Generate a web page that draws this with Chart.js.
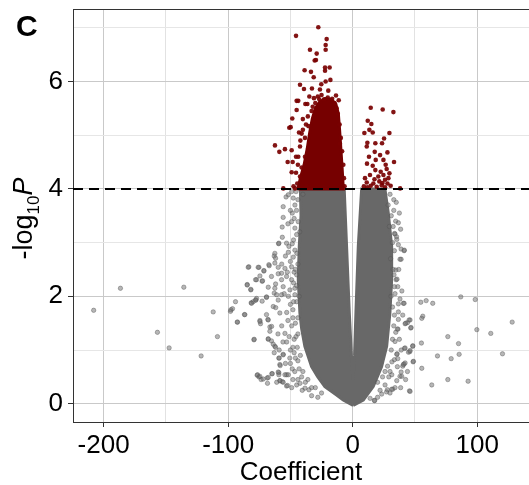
<!DOCTYPE html>
<html>
<head>
<meta charset="utf-8">
<script src="https://cdn.jsdelivr.net/npm/chart.js@4.4.0/dist/chart.umd.min.js"></script>
<style>
  html, body { margin: 0; padding: 0; background: #fff; overflow: hidden; }
  /* 3px wider than the window: the points' overflow padding lands off-screen */
  #wrap { width: 532px; height: 485px; position: relative; }
</style>
</head>
<body>
<div id="wrap"><canvas id="volcano"></canvas></div>
<script>
// axis setup
const xLimits = [-224.6, 141.6];
const yLimits = [-0.34, 7.35];
const xMajor = [-200, -100, 0, 100];
const xMinor = [-150, -50, 50];
const yMajor = [0, 2, 4, 6];
const yMinor = [1, 3, 5, 7];
const threshold = 4;

// dense grey V (outline of the solid region, coefficient / -log10 P)
const greyCore = [
    [0.4, -0.03], [-7.6, 0.07], [-14, 0.18], [-22.3, 0.32], [-28, 0.5], [-33, 0.69],
    [-38.4, 1.07], [-41, 1.4], [-42.4, 1.69], [-43.7, 2.31], [-42.9, 2.93], [-41.5, 3.5],
    [-42, 4.0], [-6.8, 4.0], [-4.9, 2.93], [-2.7, 1.69], [-0.8, 0.8], [0.2, 0.45],
    [1.5, 0.9], [2.6, 1.69], [4.5, 2.93], [7.2, 4.0], [25.9, 4.0], [28.6, 3.55],
    [31.3, 2.93], [31.3, 2.31], [29.9, 1.69], [27.3, 1.07], [23.2, 0.69], [16.5, 0.32],
    [8.5, 0.07], [0.4, -0.03]
];

// dense red blob above the threshold
const redCore = [
    [-44, 4.0], [-42, 4.2], [-39, 4.45], [-36.5, 4.75], [-34.5, 5.05], [-32.5, 5.3],
    [-30, 5.5], [-26.5, 5.62], [-22, 5.68], [-17, 5.66], [-13.5, 5.58], [-11.5, 5.4],
    [-10.5, 5.1], [-9.5, 4.75], [-8.5, 4.4], [-7.5, 4.0], [-44, 4.0]
];

// scattered grey genes
const greyPoints = [
    [-208.0, 1.74], [-186.5, 2.15], [-156.8, 1.33], [-147.4, 1.04], [-135.6, 2.17], [-121.7, 0.89],
    [-112.0, 1.71], [-108.6, 1.25], [-98.1, 1.72], [-96.5, 1.77], [-94.1, 1.90], [-92.5, 1.52],
    [-86.9, 1.66], [-83.4, 2.55], [-84.7, 2.22], [-81.8, 2.12], [-81.5, 1.88], [-79.9, 1.90],
    [-77.7, 1.93], [-79.3, 1.19], [-76.7, 0.53], [-75.3, 0.50], [-73.5, 0.45], [-68.6, 0.48],
    [-68.4, 0.38], [-64.9, 0.56], [-77.2, 2.31], [-75.3, 2.54], [-72.7, 2.28], [-71.3, 2.47],
    [-72.7, 1.91], [-74.5, 1.55], [-74.0, 1.49], [-69.2, 1.98], [-68.1, 1.57], [-66.5, 1.43],
    [-67.0, 2.57], [-63.0, 2.75], [-62.5, 2.62], [-59.5, 2.98], [-61.9, 2.23], [-63.0, 2.06],
    [-63.8, 1.81], [-61.8, 1.79], [-67.8, 1.20], [-65.2, 1.17], [-62.5, 1.07], [-59.3, 0.85],
    [-58.5, 0.73], [-59.3, 0.58], [-58.5, 0.43], [-56.5, 0.41], [-53.1, 0.33], [-59.8, 1.93],
    [-58.5, 1.69], [-57.1, 2.43], [-54.4, 1.31], [-55.8, 0.92], [-53.1, 0.54],
    [-55.8, 3.67], [-55.8, 3.47], [-56.6, 3.29], [-51.7, 3.89], [-47.7, 3.83], [-46.4, 3.70],
    [-48.5, 3.55], [-45.1, 3.60], [-43.7, 3.39], [-49.1, 3.39], [-46.4, 3.27], [-59.3, 2.99],
    [-53.1, 2.99], [-51.2, 2.93], [-48.5, 2.98], [-46.4, 2.86], [-51.7, 2.82], [-47.7, 2.73],
    [-62.5, 2.80], [-61.9, 2.71], [-67.3, 2.59], [-59.8, 2.54], [-83.9, 2.54], [-75.9, 2.54],
    [-71.3, 2.48], [-54.4, 2.52], [-49.1, 2.55], [-74.5, 2.38], [-78.0, 2.31], [-72.4, 2.29],
    [-65.2, 2.37], [-59.8, 2.42], [-57.1, 2.31], [-53.1, 2.37], [-49.1, 2.31], [-84.7, 2.21],
    [-81.8, 2.13], [-67.8, 2.17], [-62.5, 2.15], [-55.8, 2.18], [-50.4, 2.12], [-46.4, 2.15],
    [-77.2, 1.96], [-69.2, 1.99], [-61.1, 2.03], [-57.1, 2.03], [-51.7, 2.0], [-46.4, 2.03],
    [-97.8, 1.75], [-92.7, 1.52], [-81.2, 1.87], [-78.0, 1.93], [-86.6, 1.66], [-74.5, 1.53],
    [-79.1, 1.20], [-69.2, 1.66], [-67.8, 1.56], [-65.1, 1.44], [-66.5, 1.35], [-67.8, 1.21],
    [-63.8, 1.11], [-61.9, 1.05], [-59.0, 1.00], [-55.8, 0.91], [-59.0, 0.85], [-58.2, 0.71],
    [-59.8, 0.59], [-59.3, 0.54], [-54.4, 0.54], [-51.7, 0.54], [-76.4, 0.54], [-74.5, 0.51],
    [-67.8, 0.49], [-71.8, 0.46], [-64.6, 0.56], [-58.4, 0.43], [-55.8, 0.40], [-52.3, 0.34],
    [-48.5, 0.65], [-45.0, 0.35], [-42.3, 0.38], [-38.3, 0.29], [-35.1, 0.26],
    [-52, 1.55], [-49, 1.45], [-47, 1.2], [-50, 1.0], [-46, 0.85], [-44, 1.6], [-48, 1.75],
    [-45, 1.9], [-53, 1.7], [-51, 1.25], [-44.5, 1.05], [-47, 0.95],
    [-40, 3.9], [-44, 3.8], [-42.5, 3.2], [-44, 2.6], [-45, 2.4], [-43, 2.0], [-44, 1.3],
    [-42, 0.9], [-40, 0.6], [-36, 0.45], [-30, 0.3], [-25, 0.2],
    [-47, 3.45], [-45, 3.15], [-47.5, 3.05], [-44.8, 2.8], [-46, 2.5], [-47.5, 2.25],
    [-45, 2.2], [-48, 1.6], [-46, 1.5], [-45.5, 1.25], [-44, 0.8], [-43, 0.65], [-41, 0.5],
    [-38, 0.4], [-33, 0.3], [-50, 0.75], [-48, 0.45],
    [-56.5, 3.1], [-54, 2.75], [-57, 2.6], [-52.5, 2.45], [-50, 2.65], [-47, 2.45],
    [-55, 2.05], [-50, 1.85], [-47.5, 1.9], [-53, 1.15], [-50.5, 0.85], [-48, 1.05],
    [-46.5, 0.6], [-49, 0.3], [-44, 0.45], [-40.5, 0.25], [-33, 0.15], [-28, 0.12],
    [-52, 3.35], [-50, 3.6], [-53.5, 3.85], [-49, 3.95], [-45.5, 3.95], [-61, 0.4],
    [-63, 0.95], [-60, 1.3], [-57, 1.45], [-56, 1.15], [-54, 0.75],
    [86.8, 1.99], [98.4, 1.94], [128.1, 1.52], [99.7, 1.38], [110.9, 1.31], [120.3, 0.93],
    [76.4, 1.25], [85.0, 1.12], [85.5, 0.92], [79.1, 0.84], [68.1, 0.89], [55.2, 1.13],
    [55.5, 0.66], [63.5, 0.35], [76.4, 0.45], [92.7, 0.42], [54.7, 1.89], [59.0, 1.92],
    [64.3, 1.87], [56.3, 1.63], [55.5, 1.59], [46.1, 1.56], [44.0, 1.51], [42.1, 1.49],
    [46.6, 1.41], [36.7, 1.86], [40.7, 1.87], [36.7, 1.71], [40.2, 1.65], [33.5, 1.65],
    [36.7, 1.57], [34.6, 1.33], [36.4, 1.39], [48.3, 1.08], [45.9, 0.97], [44.8, 0.96],
    [41.6, 1.03], [48.5, 0.78], [41.3, 0.74], [40.2, 0.70], [35.7, 0.93], [35.9, 0.69],
    [38.9, 0.59], [38.0, 0.51], [32.2, 0.27], [45.6, 0.24], [27.9, 0.26], [23.3, 0.18],
    [17.7, 0.06], [38.9, 2.88], [41.3, 2.85], [38.9, 2.69], [36.7, 2.96], [34.9, 2.31],
    [36.2, 2.18], [35.2, 3.11], [33.6, 3.17], [36.7, 3.37], [34.0, 3.16], [35.4, 3.06],
    [41.5, 2.86], [38.0, 2.69], [34.6, 2.49], [35.6, 2.32], [33.5, 2.18], [41.3, 1.87],
    [45.3, 1.56], [42.6, 1.50], [46.9, 1.42], [35.9, 1.39], [34.0, 1.16], [48.2, 1.07],
    [46.1, 0.99], [42.1, 1.04], [35.4, 0.92], [33.5, 0.82], [36.2, 0.84], [40.7, 0.73],
    [42.1, 0.76], [48.8, 0.79], [39.4, 0.51], [35.4, 0.43], [31.4, 0.54], [28.0, 0.70],
    [30.0, 0.60], [46.1, 0.23], [31.3, 0.27], [27.2, 0.22], [17.4, 0.06],
    [30, 3.9], [33, 3.8], [28.5, 3.7], [31, 3.5], [29.5, 3.3], [32, 3.0], [30.5, 2.7],
    [32.5, 2.5], [30.8, 2.0], [32, 1.8], [20, 0.4], [24, 0.5], [26, 0.6],
    [33, 3.6], [34.5, 3.4], [32.5, 3.3], [33.5, 2.85], [33.2, 2.4], [34, 2.05], [33, 1.45],
    [32, 1.2], [31, 1.0], [31.5, 0.78], [29, 0.5], [26, 0.35], [22, 0.25], [14, 0.1],
    [37.5, 3.55], [35, 3.75], [38.5, 3.25], [37, 2.5], [39.5, 2.1], [38, 1.95], [37.5, 1.2],
    [39, 1.0], [38.5, 0.3], [34, 0.3], [30, 0.2], [20, 0.12], [42.5, 0.45], [44, 0.6]
];

// significant genes (above threshold)
const redPoints = [
    [-27.6, 7.01], [-45.5, 6.85], [-20.9, 6.79], [-21.7, 6.68], [-34.3, 6.59], [-21.7, 6.59],
    [-28.9, 6.52], [-29.5, 6.40], [-30.5, 6.39], [-38.6, 6.21], [-33.5, 6.18], [-22.2, 6.26],
    [-22.2, 6.20], [-18.5, 6.26], [-31.3, 6.08], [-17.9, 6.03], [-42.3, 5.94], [-21.7, 6.00],
    [-25.2, 5.95], [-32.7, 5.87], [-26.3, 5.85], [-19.6, 5.83], [-39.1, 5.86], [-34.8, 5.72],
    [-31.1, 5.69], [-26.8, 5.67], [-23.0, 5.67], [-13.4, 5.74], [-11.2, 5.65], [-45.0, 5.64],
    [-43.7, 5.64], [-38.0, 5.58], [-36.4, 5.58], [-45.0, 5.47], [-32.1, 5.53], [-48.5, 5.31],
    [-12.9, 5.50], [-49.8, 5.15], [-50.9, 5.14], [-43.1, 5.05], [-62.4, 4.81], [-58.9, 4.69],
    [-54.4, 4.74], [-49.0, 4.72], [-52.2, 4.50], [-48.2, 4.50], [-49.0, 4.31], [-10.2, 4.84],
    [-55.7, 4.01], [-46.3, 4.01], [-41.0, 5.03], [-42.3, 4.79], [-43.7, 4.60], [-41.0, 4.40],
    [-42.3, 4.23], [-38.3, 4.60], [-35.6, 5.17], [-38.3, 4.95], [-40.0, 5.30],
    [-44.5, 4.1], [-45.5, 4.3], [-44, 4.45], [-42, 4.9], [-40, 5.1], [-37.5, 5.2], [-36, 5.35],
    [-33, 5.45], [-30, 5.6], [-28, 5.72], [-25, 5.75], [-20, 5.7], [-16.5, 5.68], [-14.5, 5.6],
    [-12, 5.4], [-10.5, 5.2], [-9.5, 4.95], [-8.5, 4.7], [-7.5, 4.45], [-7, 4.2], [-6.5, 4.05],
    [-37, 4.05], [-47.5, 4.05], [-45.5, 4.6],
    [14.5, 5.51], [24.1, 5.48], [32.7, 5.43], [12.1, 5.27], [15.0, 5.21], [13.4, 5.10],
    [16.1, 5.05], [9.4, 5.04], [29.5, 5.04], [25.2, 4.94], [11.8, 4.86], [18.2, 4.85],
    [23.6, 4.85], [11.3, 4.79], [27.9, 4.68], [17.7, 4.69], [22.0, 4.63], [13.1, 4.60],
    [18.5, 4.54], [24.7, 4.54], [33.2, 4.50], [16.1, 4.43], [26.5, 4.45], [11.5, 4.47],
    [18.2, 4.35], [22.5, 4.32], [27.3, 4.37], [29.5, 4.29], [24.7, 4.26], [9.9, 4.20],
    [13.9, 4.26], [20.6, 4.23], [26.0, 4.17], [28.7, 4.20], [11.3, 4.12], [16.6, 4.10],
    [23.3, 4.07], [27.9, 4.10], [21.4, 4.14], [11.8, 4.03], [19.3, 4.04], [26.0, 4.03],
    [38.1, 4.01], [14.5, 4.06], [9.0, 4.05], [24.0, 4.11], [30.5, 4.06], [17.5, 4.18]
];

const toXY = arr => arr.map(p => ({ x: p[0], y: p[1] }));
const isMajor = (list, v) => list.includes(v);

// keep the plot panel flush with the canvas edges like the original
function noScalePadding(s) {
    s.paddingTop = 0;
    s.paddingBottom = 0;
    s.paddingLeft = 0;
    s.paddingRight = 0;
}

const panelDecor = {
    id: 'panelDecor',
    afterDraw(chart) {
        const { ctx, chartArea } = chart;
        ctx.save();
        // top border of the panel
        ctx.strokeStyle = '#333333';
        ctx.lineWidth = 1;
        ctx.beginPath();
        ctx.moveTo(chartArea.left, chartArea.top + 0.5);
        ctx.lineTo(chartArea.right, chartArea.top + 0.5);
        ctx.stroke();

        // panel letter
        ctx.fillStyle = '#000';
        ctx.font = 'bold 30px "Liberation Sans", Arial, sans-serif';
        ctx.textBaseline = 'alphabetic';
        ctx.fillText('C', 16, 36);

        // y title: -log10 P
        const big = '27px "Liberation Sans", Arial, sans-serif';
        const small = '17px "Liberation Sans", Arial, sans-serif';
        const ital = 'italic 27px "Liberation Sans", Arial, sans-serif';
        ctx.font = big; const w1 = ctx.measureText('-log').width;
        ctx.font = small; const w2 = ctx.measureText('10').width;
        ctx.font = ital; const w3 = ctx.measureText('P').width;
        ctx.translate(32, (chartArea.top + chartArea.bottom) / 2 + 3);
        ctx.rotate(-Math.PI / 2);
        let x = -(w1 + w2 + w3) / 2;
        ctx.font = big; ctx.fillText('-log', x, 0); x += w1;
        ctx.font = small; ctx.fillText('10', x, 7); x += w2;
        ctx.font = ital; ctx.fillText('P', x, 0);
        ctx.restore();
    }
};

function drawVolcano() {
    const ctx = document.getElementById('volcano').getContext('2d');

    new Chart(ctx, {
        type: 'scatter',
        data: {
            datasets: [
                {
                    label: 'threshold',
                    data: toXY([[xLimits[0], threshold], [xLimits[1], threshold]]),
                    showLine: true,
                    borderColor: '#000',
                    borderWidth: 2,
                    borderDash: [10, 6],
                    pointRadius: 0,
                    pointHoverRadius: 0
                },
                {
                    label: 'significant',
                    data: toXY(redPoints),
                    backgroundColor: 'rgba(120, 0, 0, 0.92)',
                    borderWidth: 0,
                    pointRadius: 2.3,
                    pointHoverRadius: 2.3
                },
                {
                    label: 'significant core',
                    data: toXY(redCore),
                    showLine: true,
                    fill: 'shape',
                    backgroundColor: '#760000',
                    borderColor: '#760000',
                    borderWidth: 3,
                    pointRadius: 0,
                    pointHoverRadius: 0
                },
                {
                    label: 'not significant',
                    data: toXY(greyPoints),
                    backgroundColor: 'rgba(110, 110, 110, 0.5)',
                    borderColor: 'rgba(80, 80, 80, 0.5)',
                    borderWidth: 0.8,
                    pointRadius: 2.2,
                    pointHoverRadius: 2.2
                },
                {
                    label: 'not significant core',
                    data: toXY(greyCore),
                    showLine: true,
                    fill: 'shape',
                    backgroundColor: '#686868',
                    borderColor: '#686868',
                    borderWidth: 3,
                    pointRadius: 0,
                    pointHoverRadius: 0
                }
            ]
        },
        options: {
            responsive: true,
            maintainAspectRatio: false,
            animation: false,
            layout: { padding: { top: 9, right: 0, left: 0, bottom: 0 } },
            plugins: {
                legend: { display: false },
                tooltip: { enabled: false }
            },
            scales: {
                x: {
                    type: 'linear',
                    min: xLimits[0],
                    max: xLimits[1],
                    afterBuildTicks: s => {
                        s.ticks = xMajor.concat(xMinor).sort((a, b) => a - b).map(v => ({ value: v }));
                    },
                    afterFit: s => { s.height = 63; noScalePadding(s); },
                    grid: {
                        color: c => isMajor(xMajor, c.tick.value) ? '#c9c9c9' : '#e2e2e2',
                        tickColor: c => isMajor(xMajor, c.tick.value) ? '#333' : 'rgba(0,0,0,0)',
                        tickLength: 5
                    },
                    border: { color: '#333', width: 1 },
                    ticks: {
                        color: '#000',
                        padding: 3,
                        maxRotation: 0,
                        autoSkip: false,
                        font: { family: '"Liberation Sans", Arial, sans-serif', size: 26 },
                        callback: v => isMajor(xMajor, v) ? String(v) : ''
                    },
                    title: {
                        display: true,
                        text: 'Coefficient',
                        color: '#000',
                        font: { family: '"Liberation Sans", Arial, sans-serif', size: 26, lineHeight: 1 },
                        padding: { top: 0, bottom: -1 }
                    }
                },
                y: {
                    type: 'linear',
                    min: yLimits[0],
                    max: yLimits[1],
                    afterBuildTicks: s => {
                        s.ticks = yMajor.concat(yMinor).sort((a, b) => a - b).map(v => ({ value: v }));
                    },
                    afterFit: s => { s.width = 73; noScalePadding(s); },
                    grid: {
                        color: c => isMajor(yMajor, c.tick.value) ? '#c9c9c9' : '#e6e6e6',
                        tickColor: c => isMajor(yMajor, c.tick.value) ? '#333' : 'rgba(0,0,0,0)',
                        tickLength: 5
                    },
                    border: { color: '#333', width: 1 },
                    ticks: {
                        color: '#000',
                        padding: 5,
                        autoSkip: false,
                        font: { family: '"Liberation Sans", Arial, sans-serif', size: 26 },
                        callback: v => isMajor(yMajor, v) ? String(v) : ''
                    }
                }
            }
        },
        plugins: [panelDecor]
    });
}

document.addEventListener('DOMContentLoaded', drawVolcano);
</script>
</body>
</html>
